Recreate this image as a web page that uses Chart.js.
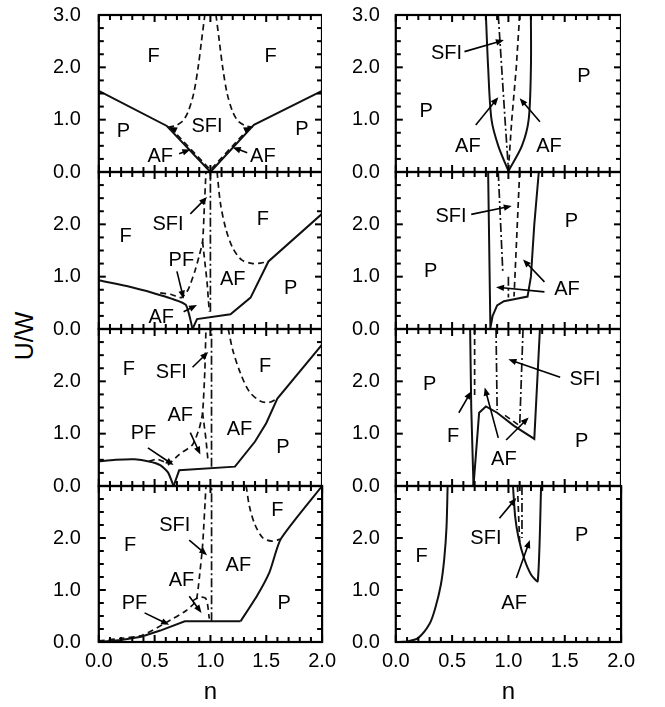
<!DOCTYPE html>
<html>
<head>
<meta charset="utf-8">
<script src="https://cdn.jsdelivr.net/npm/chart.js@4"></script>
<style>
  html, body { margin: 0; padding: 0; background: #fff; }
  #wrap { position: relative; width: 665px; height: 707px; overflow: hidden; }
  #wrap canvas { position: absolute; }
  #ytitle {
    position: absolute; left: 24px; top: 336px;
    transform: translate(-50%, -50%) rotate(-90deg);
    font: 25px "Liberation Sans", Arial, sans-serif; color: #000; white-space: nowrap;
  }
</style>
</head>
<body>
<div id="wrap"><div id="ytitle">U/W</div></div>
<script>
// ==========================================
// DATA  (points are [n, U/W])
// ==========================================
const xTicks = [0, 0.5, 1.0, 1.5, 2.0];
const yTicks = [0, 1.0, 2.0, 3.0];
const xMinor = [0, 0.1, 0.2, 0.3, 0.4, 0.5, 0.6, 0.7, 0.8, 0.9, 1.0, 1.1, 1.2, 1.3, 1.4, 1.5, 1.6, 1.7, 1.8, 1.9, 2.0];
const yMinor = [0, 0.25, 0.5, 0.75, 1.0, 1.25, 1.5, 1.75, 2.0, 2.25, 2.5, 2.75, 3.0];

// --- left column, row 1
const a1Solid = [[0, 1.55], [0.61, 0.88], [1.0, 0.0], [1.39, 0.9], [2.0, 1.55]];
const a1DashV = [[0.64, 0.85], [1.0, 0.04], [1.36, 0.87]];
const a1DashL = [[0.62, 0.86], [0.68, 0.88], [0.75, 0.97], [0.8, 1.15], [0.85, 1.5], [0.89, 2.0], [0.92, 2.5], [0.95, 3.0]];
const a1DashR = [[1.05, 3.0], [1.08, 2.5], [1.11, 2.0], [1.15, 1.5], [1.2, 1.15], [1.25, 0.97], [1.32, 0.88], [1.38, 0.86]];
const a1Labels = [['F', 0.49, 2.2], ['F', 1.54, 2.2], ['P', 0.22, 0.77], ['P', 1.82, 0.82], ['SFI', 0.97, 0.87], ['AF', 0.55, 0.3], ['AF', 1.47, 0.3]];
const a1Arrows = [[0.72, 0.35, 0.82, 0.43], [1.33, 0.37, 1.2, 0.47], [0.69, 0.8, 0.63, 0.86], [1.31, 0.8, 1.37, 0.86]];

// --- left column, row 2
const a2SolidL = [[0, 0.93], [0.25, 0.82], [0.5, 0.68], [0.65, 0.58], [0.78, 0.46], [0.84, 0.0]];
const a2SolidR = [[0.84, 0.0], [0.88, 0.19], [1.18, 0.28], [1.36, 0.6], [1.52, 1.29], [2.0, 2.2]];
const a2DashPF = [[0.55, 0.69], [0.65, 0.66], [0.74, 0.6], [0.8, 0.75], [0.86, 1.1], [0.9, 1.4], [0.93, 1.67], [0.945, 2.3], [0.96, 3.0]];
const a2DashDn = [[0.93, 1.67], [0.97, 0.9], [0.99, 0.33]];
const a2DashDot = [[1.0, 0.33], [1.0, 3.0]];
const a2DashR = [[1.06, 3.0], [1.09, 2.4], [1.14, 1.9], [1.2, 1.55], [1.28, 1.32], [1.38, 1.25], [1.45, 1.26], [1.52, 1.29]];
const a2Labels = [['F', 0.24, 1.77], ['SFI', 0.62, 2.0], ['F', 1.47, 2.1], ['PF', 0.74, 1.3], ['AF', 1.2, 0.95], ['P', 1.72, 0.78], ['AF', 0.56, 0.22]];
const a2Arrows = [[0.82, 2.2, 0.97, 2.52], [0.7, 1.1, 0.76, 0.58], [0.76, 0.33, 0.88, 0.46]];

// --- left column, row 3
const a3SolidL = [[0, 0.47], [0.15, 0.5], [0.32, 0.51], [0.45, 0.47], [0.55, 0.4], [0.62, 0.26], [0.67, 0.0]];
const a3SolidR = [[0.67, 0.0], [0.72, 0.3], [1.22, 0.37], [1.4, 0.85], [1.5, 1.2], [1.6, 1.67], [2.0, 2.7]];
const a3DashPF = [[0.45, 0.47], [0.52, 0.52], [0.6, 0.45]];
const a3DashUp = [[0.62, 0.4], [0.72, 0.6], [0.84, 0.79], [0.9, 1.1], [0.93, 1.4], [0.95, 2.2], [0.96, 3.0]];
const a3DashDn = [[0.93, 1.4], [0.96, 0.9], [0.98, 0.45]];
const a3DashDot = [[1.01, 0.37], [1.01, 3.0]];
const a3DashR = [[1.16, 3.0], [1.2, 2.6], [1.27, 2.15], [1.35, 1.8], [1.45, 1.62], [1.53, 1.6], [1.6, 1.67]];
const a3Labels = [['F', 0.27, 2.23], ['SFI', 0.65, 2.17], ['F', 1.49, 2.29], ['AF', 0.73, 1.35], ['PF', 0.4, 1.0], ['AF', 1.26, 1.08], ['P', 1.65, 0.73]];
const a3Arrows = [[0.84, 2.27, 0.98, 2.56], [0.82, 1.02, 0.91, 0.6], [0.44, 0.73, 0.67, 0.4]];

// --- left column, row 4
const a4SolidL = [[0, 0], [0.2, 0.04], [0.38, 0.1], [0.55, 0.22], [0.77, 0.4], [1.27, 0.4]];
const a4SolidR = [[1.27, 0.4], [1.42, 0.9], [1.53, 1.35], [1.63, 1.98], [2.0, 3.0]];
const a4DashUp = [[0, 0.02], [0.2, 0.07], [0.39, 0.13], [0.6, 0.37], [0.78, 0.6], [0.87, 0.79], [0.9, 1.23], [0.93, 1.87], [0.96, 3.0]];
const a4DashHook = [[0.84, 0.79], [0.9, 0.86], [0.96, 0.83], [0.99, 0.45]];
const a4DashDot = [[1.01, 0.4], [1.01, 3.0]];
const a4DashR = [[1.32, 3.0], [1.35, 2.6], [1.4, 2.25], [1.47, 2.0], [1.55, 1.94], [1.63, 1.98]];
const a4Labels = [['F', 0.28, 1.85], ['SFI', 0.68, 2.25], ['AF', 0.74, 1.19], ['PF', 0.32, 0.75], ['AF', 1.25, 1.48], ['F', 1.6, 2.52], ['P', 1.66, 0.75]];
const a4Arrows = [[0.81, 1.96, 0.97, 1.67], [0.81, 0.88, 0.92, 0.56], [0.41, 0.56, 0.63, 0.33]];

// --- right column, row 1
const b1SolidL = [[0.8, 3.0], [0.82, 2.0], [0.85, 1.0], [0.91, 0.5], [1.0, 0.02]];
const b1SolidR = [[1.0, 0.02], [1.12, 0.5], [1.18, 1.0], [1.2, 2.0], [1.2, 3.0]];
const b1DashDot = [[0.91, 3.0], [0.94, 2.0], [0.97, 1.0], [1.0, 0.05]];
const b1Dash = [[1.1, 3.0], [1.07, 2.0], [1.03, 1.0], [1.0, 0.05]];
const b1Labels = [['SFI', 0.45, 2.27], ['P', 0.27, 1.15], ['P', 1.67, 1.82], ['AF', 0.64, 0.48], ['AF', 1.36, 0.48]];
const b1Arrows = [[0.61, 2.3, 0.96, 2.52], [0.71, 0.9, 0.91, 1.43], [1.28, 0.96, 1.1, 1.41]];

// --- right column, row 2
const b2Solid = [[0.82, 3.0], [0.84, 0.02], [0.86, 0.25], [0.9, 0.45], [0.96, 0.53], [1.05, 0.57], [1.17, 0.62], [1.2, 1.0], [1.23, 2.0], [1.27, 3.0]];
const b2DashDot = [[0.91, 3.0], [0.95, 1.1]];
const b2Dash = [[1.1, 3.0], [1.05, 0.62]];
const b2DashDot2 = [[1.0, 1.0], [1.0, 0.6]];
const b2Labels = [['SFI', 0.49, 2.15], ['P', 0.31, 1.1], ['P', 1.56, 2.06], ['AF', 1.52, 0.75]];
const b2Arrows = [[0.67, 2.19, 1.03, 2.35], [1.32, 0.9, 1.13, 1.33], [1.32, 0.71, 0.89, 0.8]];

// --- right column, row 3
const b3SolidL = [[0.66, 3.0], [0.67, 1.5], [0.69, 0.0]];
const b3SolidPk = [[0.69, 0.0], [0.74, 1.4], [0.8, 1.52], [0.9, 1.4], [1.05, 1.15], [1.23, 0.9], [1.28, 3.0]];
const b3DashL = [[0.7, 3.0], [0.7, 1.7]];
const b3DashPk = [[0.97, 1.35], [1.1, 1.15]];
const b3DashDot = [[0.89, 3.0], [0.9, 1.45]];
const b3DashDot2 = [[1.13, 3.0], [1.1, 1.13]];
const b3Labels = [['P', 0.3, 1.94], ['SFI', 1.68, 2.04], ['F', 0.51, 0.94], ['AF', 0.96, 0.5], ['P', 1.65, 0.85]];
const b3Arrows = [[1.46, 2.08, 1.0, 2.42], [0.56, 1.4, 0.67, 1.81], [0.91, 0.92, 0.79, 1.88], [0.98, 0.88, 1.18, 1.31]];

// --- right column, row 4
const b4SolidF = [[0, 0], [0.1, 0.01], [0.2, 0.08], [0.3, 0.35], [0.35, 0.65], [0.4, 1.1], [0.43, 1.6], [0.45, 2.2], [0.46, 3.0]];
const b4SolidR = [[1.04, 3.0], [1.06, 2.4], [1.09, 2.0], [1.14, 1.6], [1.2, 1.3], [1.26, 1.17], [1.29, 3.0]];
const b4Dash = [[1.08, 3.0], [1.1, 1.9]];
const b4DashDot = [[1.12, 3.0], [1.12, 2.0]];
const b4Labels = [['F', 0.23, 1.65], ['SFI', 0.8, 2.0], ['P', 1.65, 2.04], ['AF', 1.05, 0.75]];
const b4Arrows = [[0.92, 2.38, 1.07, 2.77], [1.07, 1.23, 1.19, 1.96]];

// ==========================================
// LAYOUT / STYLE
// ==========================================
const FONT = '"Liberation Sans", Arial, Helvetica, sans-serif';
const rowTop = [15, 172, 329, 486];
const rowBot = [172, 329, 486, 642];
const plotLeft = [99, 396];
const plotRight = [322, 621];
const yLabelPad = [18, 16];

function line(pts, style, tension) {
  return {
    data: pts.map(p => ({ x: p[0], y: p[1] })),
    showLine: true,
    borderColor: '#111',
    borderWidth: style === 'solid' ? 2 : 1.7,
    borderDash: style === 'dash' ? [6, 4] : style === 'dashdot' ? [9, 3, 2, 3] : [],
    pointRadius: 0,
    tension: tension || 0,
    fill: false
  };
}

const panels = [
  { col: 0, row: 0, labels: a1Labels, arrows: a1Arrows, sets: [
    line(a1Solid, 'solid'), line(a1DashV, 'dash'), line(a1DashL, 'dash', 0.3), line(a1DashR, 'dash', 0.3)] },
  { col: 0, row: 1, labels: a2Labels, arrows: a2Arrows, sets: [
    line(a2SolidL, 'solid', 0.2), line(a2SolidR, 'solid'), line(a2DashPF, 'dash', 0.2), line(a2DashDn, 'dash'),
    line(a2DashDot, 'dashdot'), line(a2DashR, 'dash', 0.3)] },
  { col: 0, row: 2, labels: a3Labels, arrows: a3Arrows, sets: [
    line(a3SolidL, 'solid', 0.2), line(a3SolidR, 'solid'), line(a3DashPF, 'dash'), line(a3DashUp, 'dash', 0.2),
    line(a3DashDn, 'dash'), line(a3DashDot, 'dashdot'), line(a3DashR, 'dash', 0.3)] },
  { col: 0, row: 3, labels: a4Labels, arrows: a4Arrows, sets: [
    line(a4SolidL, 'solid'), line(a4SolidR, 'solid', 0.2), line(a4DashUp, 'dash', 0.2), line(a4DashHook, 'dash', 0.3),
    line(a4DashDot, 'dashdot'), line(a4DashR, 'dash', 0.3)] },
  { col: 1, row: 0, labels: b1Labels, arrows: b1Arrows, sets: [
    line(b1SolidL, 'solid', 0.3), line(b1SolidR, 'solid', 0.3), line(b1DashDot, 'dashdot'), line(b1Dash, 'dash')] },
  { col: 1, row: 1, labels: b2Labels, arrows: b2Arrows, sets: [
    line(b2Solid, 'solid'), line(b2DashDot, 'dashdot'), line(b2Dash, 'dash'), line(b2DashDot2, 'dashdot')] },
  { col: 1, row: 2, labels: b3Labels, arrows: b3Arrows, sets: [
    line(b3SolidL, 'solid'), line(b3SolidPk, 'solid'), line(b3DashL, 'dash'), line(b3DashPk, 'dash'),
    line(b3DashDot, 'dashdot'), line(b3DashDot2, 'dashdot')] },
  { col: 1, row: 3, labels: b4Labels, arrows: b4Arrows, sets: [
    line(b4SolidF, 'solid', 0.3), line(b4SolidR, 'solid', 0.2), line(b4Dash, 'dash'), line(b4DashDot, 'dashdot')] }
];

// frame with inward ticks, region labels and arrows
const decor = {
  id: 'decor',
  afterDraw(chart, args, opts) {
    const { ctx, chartArea: a } = chart;
    const x = chart.scales.x, y = chart.scales.y;
    ctx.save();
    ctx.setLineDash([]);
    ctx.strokeStyle = '#000';
    ctx.fillStyle = '#000';

    ctx.lineWidth = 2.2;
    ctx.strokeRect(a.left, a.top, a.right - a.left, a.bottom - a.top);

    // inward tick marks on all four sides (minor every 0.1 / 0.25)
    for (let k = 0; k < xMinor.length; k++) {
      const px = a.left + xMinor[k] / 2 * (a.right - a.left);
      const len = (k % 5 === 0) ? 7 : 5;
      ctx.fillRect(px - 1, a.bottom - len, 2, len);
      ctx.fillRect(px - 1, a.top, 2, len);
    }
    for (let k = 0; k < yMinor.length; k++) {
      const py = a.bottom - yMinor[k] / 3 * (a.bottom - a.top);
      const len = (k % 4 === 0) ? 7 : 5;
      ctx.fillRect(a.left, py - 1, len, 2);
      ctx.fillRect(a.right - len, py - 1, len, 2);
    }

    // arrows
    ctx.lineWidth = 1.6;
    (opts.arrows || []).forEach(([n1, u1, n2, u2]) => {
      const x1 = x.getPixelForValue(n1), y1 = y.getPixelForValue(u1);
      const x2 = x.getPixelForValue(n2), y2 = y.getPixelForValue(u2);
      const ang = Math.atan2(y2 - y1, x2 - x1);
      const hl = 8, hw = 3.2;
      ctx.beginPath();
      ctx.moveTo(x1, y1);
      ctx.lineTo(x2 - Math.cos(ang) * hl * 0.8, y2 - Math.sin(ang) * hl * 0.8);
      ctx.stroke();
      ctx.beginPath();
      ctx.moveTo(x2, y2);
      ctx.lineTo(x2 - Math.cos(ang) * hl - Math.sin(ang) * hw, y2 - Math.sin(ang) * hl + Math.cos(ang) * hw);
      ctx.lineTo(x2 - Math.cos(ang) * hl + Math.sin(ang) * hw, y2 - Math.sin(ang) * hl - Math.cos(ang) * hw);
      ctx.closePath();
      ctx.fill();
    });

    // region labels
    ctx.font = '20px ' + FONT;
    ctx.textAlign = 'center';
    ctx.textBaseline = 'middle';
    (opts.labels || []).forEach(([t, n, u]) => {
      ctx.fillText(t, x.getPixelForValue(n), y.getPixelForValue(u));
    });
    ctx.restore();
  }
};

function config(p) {
  const bottomRow = p.row === 3;
  return {
    type: 'scatter',
    data: { datasets: p.sets },
    plugins: [decor],
    options: {
      responsive: false,
      maintainAspectRatio: false,
      animation: false,
      events: [],
      layout: { padding: 0 },
      plugins: {
        legend: { display: false },
        tooltip: { enabled: false },
        decor: { labels: p.labels, arrows: p.arrows }
      },
      scales: {
        x: {
          type: 'linear', min: 0, max: 2,
          display: bottomRow,
          afterBuildTicks: s => { s.ticks = xTicks.map(v => ({ value: v })); },
          afterFit: bottomRow ? (s => { s.height = 65; }) : undefined,
          grid: { display: false, drawTicks: false },
          border: { display: false },
          ticks: {
            autoSkip: false, maxRotation: 0, padding: 7, color: '#000',
            font: { size: 20, family: FONT },
            callback: v => Number(v).toFixed(1)
          },
          title: {
            display: true, text: 'n', color: '#000',
            font: { size: 24, family: FONT },
            padding: { top: 0, bottom: 0 }
          }
        },
        y: {
          type: 'linear', min: 0, max: 3,
          afterBuildTicks: s => { s.ticks = yTicks.map(v => ({ value: v })); },
          grid: { display: false, drawTicks: false },
          border: { display: false },
          ticks: {
            autoSkip: false, padding: yLabelPad[p.col], color: '#000',
            font: { size: 20, family: FONT },
            callback: v => (p.row > 0 && v === 3) ? '' : Number(v).toFixed(1)
          }
        }
      }
    }
  };
}

const wrap = document.getElementById('wrap');

panels.forEach(p => {
  const cv = document.createElement('canvas');
  cv.width = 400; cv.height = 300;
  cv.style.width = '400px'; cv.style.height = '300px';
  wrap.appendChild(cv);

  // first pass: measure how much room the axes take around the plot
  let ch = new Chart(cv.getContext('2d'), config(p));
  const a = ch.chartArea;
  const T = a.top, L = a.left, R = 400 - a.right, B = 300 - a.bottom;
  ch.destroy();

  // second pass: size the canvas so the plot area lands on the panel grid
  const w = Math.round(L + (plotRight[p.col] - plotLeft[p.col]) + R);
  const h = Math.round(T + (rowBot[p.row] - rowTop[p.row]) + B);
  cv.width = w; cv.height = h;
  cv.style.width = w + 'px'; cv.style.height = h + 'px';
  cv.style.left = Math.round(plotLeft[p.col] - L) + 'px';
  cv.style.top = Math.round(rowTop[p.row] - T) + 'px';
  new Chart(cv.getContext('2d'), config(p));
});
</script>
</body>
</html>
